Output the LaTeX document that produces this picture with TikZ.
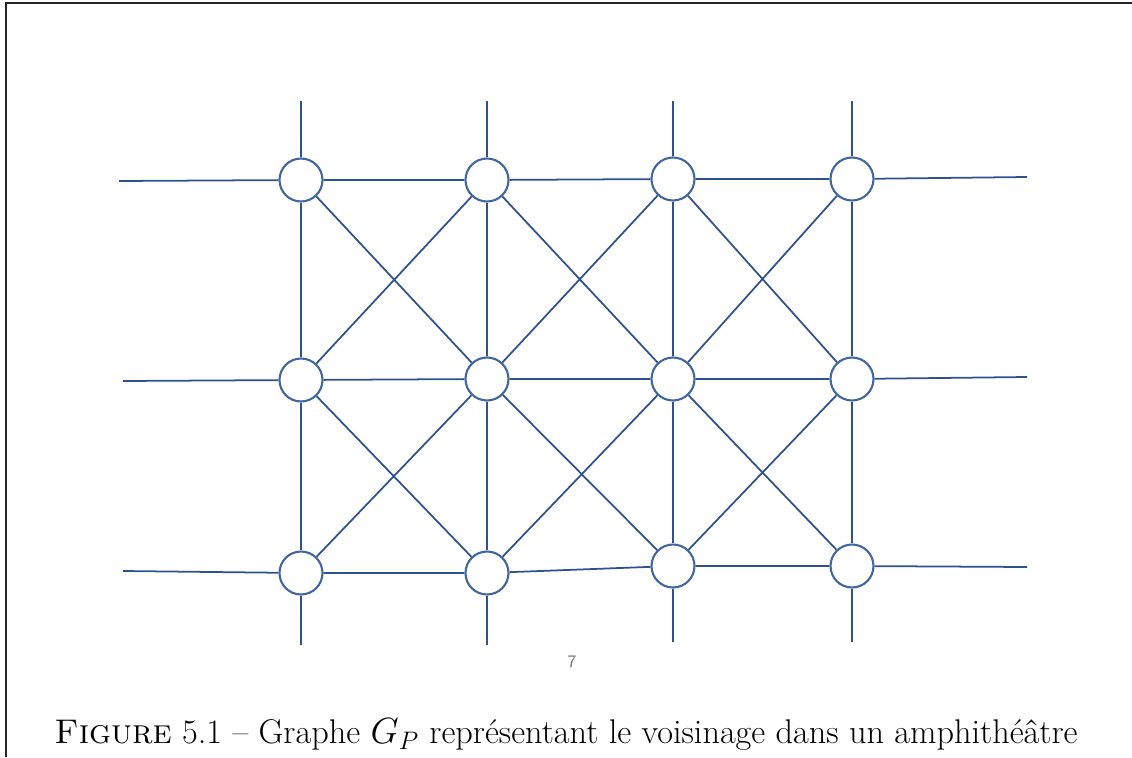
\documentclass[tikz,border=0pt]{standalone}
\usepackage{tikz}
\usetikzlibrary{positioning}
\definecolor{edgeblue}{RGB}{47,82,143}
\definecolor{ringblue}{RGB}{66,103,160}
\begin{document}
\begin{tikzpicture}[x=0.02cm, y=-0.02cm,
  place/.style={circle, draw=ringblue, fill=white, line width=1.2pt,
  minimum size=0.86cm, inner sep=0pt},
  link/.style={draw=edgeblue, line width=1pt},
  capt/.style={font=\fontsize{19.5}{23}\selectfont, anchor=center}]
  \useasboundingbox (0,0) rectangle (1132,757);
  \draw[black!85, line width=1.1pt] (6,757) -- (6,3) -- (1132,3);

  % places
  \node[place] (a1) at (301,180) {};
  \node[place] (a2) at (487,180) {};
  \node[place] (a3) at (673,179) {};
  \node[place] (a4) at (852,179) {};
  \node[place] (b1) at (301,380) {};
  \node[place] (b2) at (487,379) {};
  \node[place] (b3) at (673,379) {};
  \node[place] (b4) at (852,379) {};
  \node[place] (c1) at (301,573) {};
  \node[place] (c2) at (487,573) {};
  \node[place] (c3) at (673,566) {};
  \node[place] (c4) at (852,566) {};

  % free ends
  \coordinate (la) at (119,181);
  \coordinate (lb) at (123,381);
  \coordinate (lc) at (123,571);
  \coordinate (ra) at (1027,177);
  \coordinate (rb) at (1027,377);
  \coordinate (rc) at (1027,567);
  \coordinate (t1) at (301,101);
  \coordinate (t2) at (487,101);
  \coordinate (t3) at (673,101);
  \coordinate (t4) at (852,101);
  \coordinate (u1) at (301,645);
  \coordinate (u2) at (487,645);
  \coordinate (u3) at (673,642);
  \coordinate (u4) at (852,642);

  % rows
  \path[link] (la) -- (a1) -- (a2) -- (a3) -- (a4) -- (ra);
  \path[link] (lb) -- (b1) -- (b2) -- (b3) -- (b4) -- (rb);
  \path[link] (lc) -- (c1) -- (c2) -- (c3) -- (c4) -- (rc);
  % columns
  \path[link] (t1) -- (a1) -- (b1) -- (c1) -- (u1);
  \path[link] (t2) -- (a2) -- (b2) -- (c2) -- (u2);
  \path[link] (t3) -- (a3) -- (b3) -- (c3) -- (u3);
  \path[link] (t4) -- (a4) -- (b4) -- (c4) -- (u4);
  % diagonals
  \path[link] (a1) -- (b2) (a2) -- (b1);
  \path[link] (a2) -- (b3) (a3) -- (b2);
  \path[link] (a3) -- (b4) (a4) -- (b3);
  \path[link] (b1) -- (c2) (b2) -- (c1);
  \path[link] (b2) -- (c3) (b3) -- (c2);
  \path[link] (b3) -- (c4) (b4) -- (c3);

  \node[font=\sffamily\fontsize{10}{12}\selectfont, text=black!55] (pg) at (572,662) {7};
  \node[capt] (cap) at (566,735) {\textsc{Figure} 5.1 -- Graphe $G_P$ représentant le voisinage dans un amphithéâtre};
\end{tikzpicture}
\end{document}
